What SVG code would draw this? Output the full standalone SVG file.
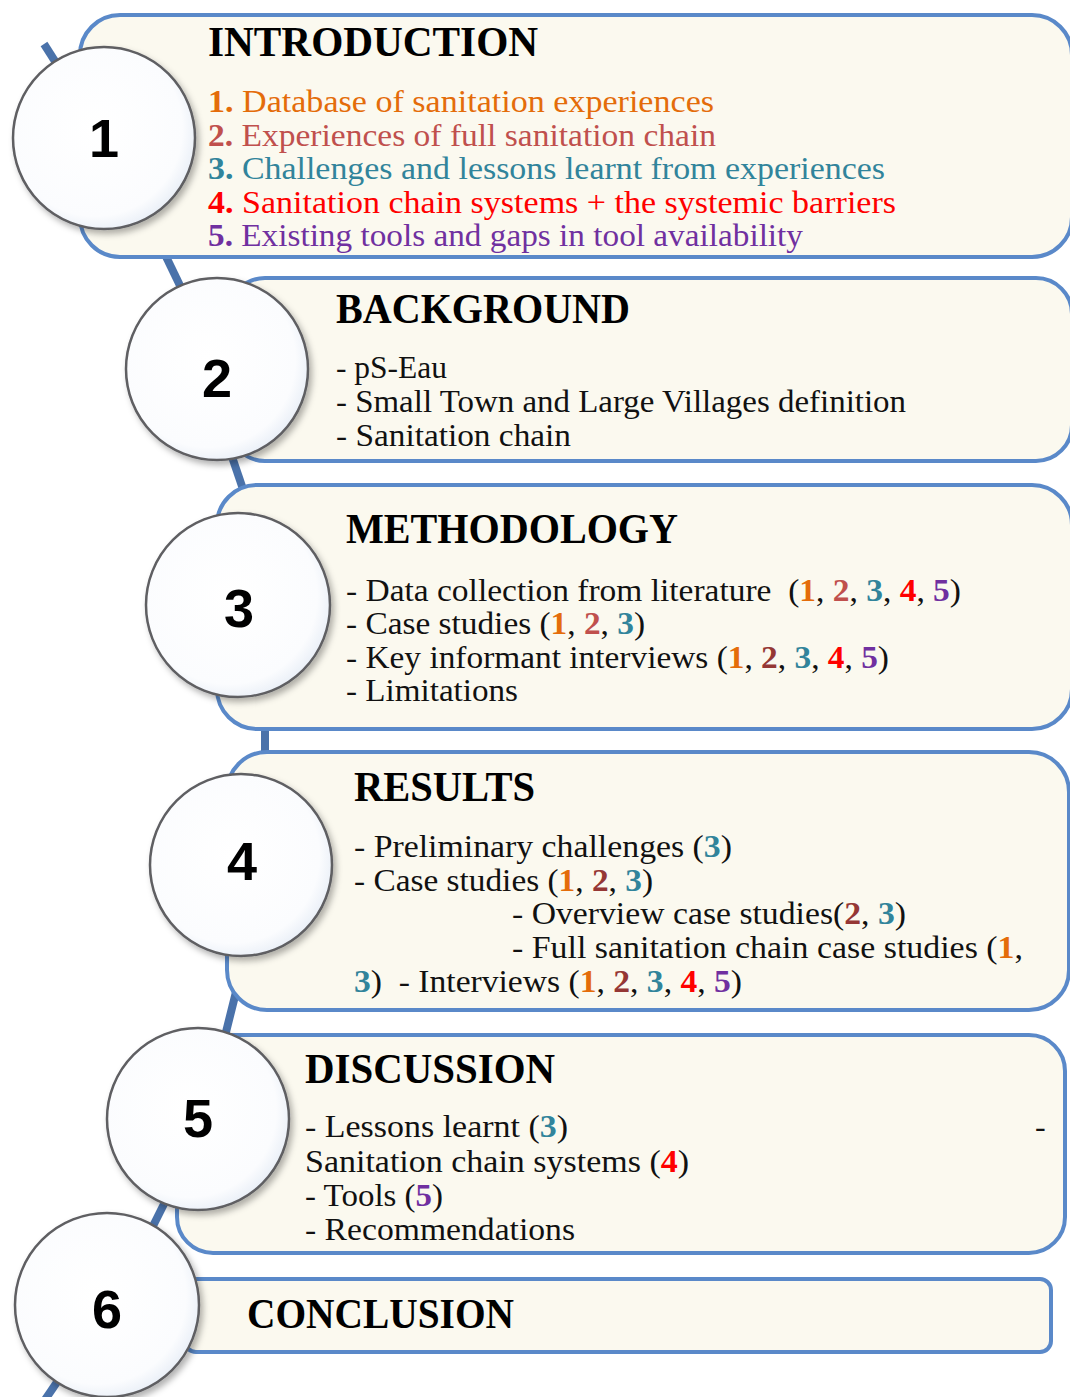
<svg xmlns="http://www.w3.org/2000/svg" width="1070" height="1397" viewBox="0 0 1070 1397">
  <defs>
    <radialGradient id="disc" cx="0.45" cy="0.45" r="0.6">
      <stop offset="0" stop-color="#ffffff"/>
      <stop offset="0.8" stop-color="#fbfcfe"/>
      <stop offset="1" stop-color="#e4ebf5"/>
    </radialGradient>
    <filter id="shadow" x="-20%" y="-20%" width="145%" height="145%">
      <feDropShadow dx="3" dy="4" stdDeviation="3" flood-color="#000" flood-opacity="0.3"/>
    </filter>
    <style>
      .box { fill: #fbf9ef; stroke: #5a89c9; stroke-width: 4; }
      .disc { fill: url(#disc); stroke: #5e5e62; stroke-width: 2.5; filter: url(#shadow); }
      .num { font-family: "Liberation Sans", Arial, sans-serif; font-weight: bold; font-size: 54px; fill: #000; text-anchor: middle; }
      .head { font-family: "Liberation Serif", "Times New Roman", serif; font-weight: bold; font-size: 42px; fill: #000; }
      .body { font-family: "Liberation Serif", "Times New Roman", serif; font-size: 32px; fill: #111; white-space: pre; }
      .b { font-weight: bold; }
      .c1 { fill: #e46c0a; }
      .c2 { fill: #c0504d; }
      .c2d { fill: #953735; }
      .c3 { fill: #31849b; }
      .c4 { fill: #ff0000; }
      .c5 { fill: #7030a0; }
      .spine { stroke: #4a72aa; stroke-width: 8; fill: none; stroke-linecap: butt; }
    </style>
  </defs>

  <rect width="1070" height="1397" fill="#ffffff"/>

  <!-- spine linking the numbered discs -->
  <g id="connectors">
    <line class="spine" x1="44" y1="44" x2="104" y2="138"/>
    <line class="spine" x1="158" y1="240" x2="186" y2="298"/>
    <line class="spine" x1="229" y1="448" x2="246" y2="498"/>
    <line class="spine" x1="265" y1="715" x2="265" y2="765"/>
    <line class="spine" x1="237" y1="988" x2="224" y2="1040"/>
    <line class="spine" x1="170" y1="1192" x2="147" y2="1238"/>
    <line class="spine" x1="68" y1="1366" x2="38" y2="1410"/>
  </g>

  <!-- 1 : introduction -->
  <g id="node-1">
    <rect class="box" x="80" y="15" width="992" height="242" rx="40"/>
    <circle class="disc" cx="104" cy="138" r="91"/>
    <text class="num" x="104" y="157">1</text>
    <text class="head" x="208" y="56" textLength="330" lengthAdjust="spacingAndGlyphs">INTRODUCTION</text>
    <text class="body c1" x="208" y="112" textLength="506" lengthAdjust="spacingAndGlyphs"><tspan class="b">1.</tspan> Database of sanitation experiences</text>
    <text class="body c2" x="208" y="146" textLength="508" lengthAdjust="spacingAndGlyphs"><tspan class="b">2.</tspan> Experiences of full sanitation chain</text>
    <text class="body c3" x="208" y="179" textLength="677" lengthAdjust="spacingAndGlyphs"><tspan class="b">3.</tspan> Challenges and lessons learnt from experiences</text>
    <text class="body c4" x="208" y="213" textLength="688" lengthAdjust="spacingAndGlyphs"><tspan class="b">4.</tspan> Sanitation chain systems + the systemic barriers</text>
    <text class="body c5" x="208" y="246" textLength="595" lengthAdjust="spacingAndGlyphs"><tspan class="b">5.</tspan> Existing tools and gaps in tool availability</text>
  </g>

  <!-- 2 : background -->
  <g id="node-2">
    <rect class="box" x="229" y="278" width="843" height="183" rx="36"/>
    <circle class="disc" cx="217" cy="369" r="91"/>
    <text class="num" x="217" y="397">2</text>
    <text class="head" x="336" y="323" textLength="294" lengthAdjust="spacingAndGlyphs">BACKGROUND</text>
    <text class="body" x="336" y="378" textLength="111" lengthAdjust="spacingAndGlyphs">- pS-Eau</text>
    <text class="body" x="336" y="412" textLength="570" lengthAdjust="spacingAndGlyphs">- Small Town and Large Villages definition</text>
    <text class="body" x="336" y="446" textLength="235" lengthAdjust="spacingAndGlyphs">- Sanitation chain</text>
  </g>

  <!-- 3 : methodology -->
  <g id="node-3">
    <rect class="box" x="217" y="485" width="855" height="244" rx="40"/>
    <circle class="disc" cx="238" cy="605" r="92"/>
    <text class="num" x="239" y="627">3</text>
    <text class="head" x="346" y="543" textLength="332" lengthAdjust="spacingAndGlyphs">METHODOLOGY</text>
    <text class="body" x="346" y="601" textLength="615" lengthAdjust="spacingAndGlyphs">- Data collection from literature  (<tspan class="b c1">1</tspan>, <tspan class="b c2">2</tspan>, <tspan class="b c3">3</tspan>, <tspan class="b c4">4</tspan>, <tspan class="b c5">5</tspan>)</text>
    <text class="body" x="346" y="634" textLength="299" lengthAdjust="spacingAndGlyphs">- Case studies (<tspan class="b c1">1</tspan>, <tspan class="b c2">2</tspan>, <tspan class="b c3">3</tspan>)</text>
    <text class="body" x="346" y="668" textLength="543" lengthAdjust="spacingAndGlyphs">- Key informant interviews (<tspan class="b c1">1</tspan>, <tspan class="b c2d">2</tspan>, <tspan class="b c3">3</tspan>, <tspan class="b c4">4</tspan>, <tspan class="b c5">5</tspan>)</text>
    <text class="body" x="346" y="701" textLength="172" lengthAdjust="spacingAndGlyphs">- Limitations</text>
  </g>

  <!-- 4 : results -->
  <g id="node-4">
    <rect class="box" x="227" y="752" width="842" height="258" rx="40"/>
    <circle class="disc" cx="241" cy="865" r="91"/>
    <text class="num" x="242" y="880">4</text>
    <text class="head" x="354" y="801" textLength="181" lengthAdjust="spacingAndGlyphs">RESULTS</text>
    <text class="body" x="354" y="857" textLength="378" lengthAdjust="spacingAndGlyphs">- Preliminary challenges (<tspan class="b c3">3</tspan>)</text>
    <text class="body" x="354" y="891" textLength="299" lengthAdjust="spacingAndGlyphs">- Case studies (<tspan class="b c1">1</tspan>, <tspan class="b c2d">2</tspan>, <tspan class="b c3">3</tspan>)</text>
    <text class="body" x="512" y="924" textLength="394" lengthAdjust="spacingAndGlyphs">- Overview case studies(<tspan class="b c2d">2</tspan>, <tspan class="b c3">3</tspan>)</text>
    <text class="body" x="512" y="958" textLength="511" lengthAdjust="spacingAndGlyphs">- Full sanitation chain case studies (<tspan class="b c1">1</tspan>,</text>
    <text class="body" x="354" y="992" textLength="388" lengthAdjust="spacingAndGlyphs"><tspan class="b c3">3</tspan>)  - Interviews (<tspan class="b c1">1</tspan>, <tspan class="b c2d">2</tspan>, <tspan class="b c3">3</tspan>, <tspan class="b c4">4</tspan>, <tspan class="b c5">5</tspan>)</text>
  </g>

  <!-- 5 : discussion -->
  <g id="node-5">
    <rect class="box" x="177" y="1035" width="888" height="218" rx="36"/>
    <circle class="disc" cx="198" cy="1119" r="91"/>
    <text class="num" x="198" y="1137">5</text>
    <text class="head" x="305" y="1083" textLength="250" lengthAdjust="spacingAndGlyphs">DISCUSSION</text>
    <text class="body" x="305" y="1137" textLength="263" lengthAdjust="spacingAndGlyphs">- Lessons learnt (<tspan class="b c3">3</tspan>)</text>
    <text class="body" x="1035" y="1137">-</text>
    <text class="body" x="305" y="1172" textLength="384" lengthAdjust="spacingAndGlyphs">Sanitation chain systems (<tspan class="b c4">4</tspan>)</text>
    <text class="body" x="305" y="1206" textLength="138" lengthAdjust="spacingAndGlyphs">- Tools (<tspan class="b c5">5</tspan>)</text>
    <text class="body" x="305" y="1240" textLength="270" lengthAdjust="spacingAndGlyphs">- Recommendations</text>
  </g>

  <!-- 6 : conclusion -->
  <g id="node-6">
    <rect class="box" x="185" y="1279" width="866" height="73" rx="11"/>
    <circle class="disc" cx="107" cy="1305" r="92"/>
    <text class="num" x="107" y="1328">6</text>
    <text class="head" x="247" y="1328" textLength="267" lengthAdjust="spacingAndGlyphs">CONCLUSION</text>
  </g>
</svg>
